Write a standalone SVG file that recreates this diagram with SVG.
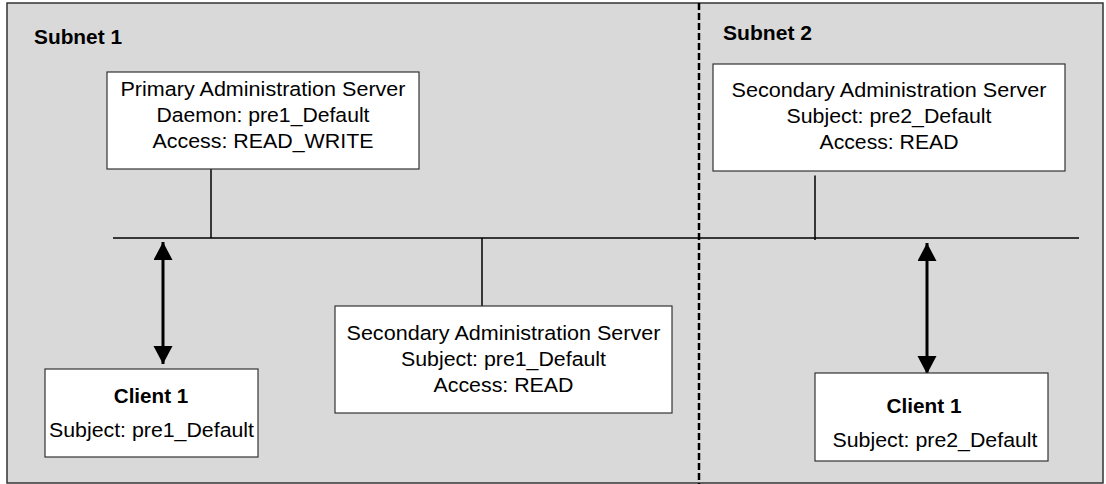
<svg xmlns="http://www.w3.org/2000/svg" width="1106" height="484" viewBox="0 0 1106 484">
  <style>
    .t { font-family: "Liberation Sans", Arial, sans-serif; font-size: 20.5px; fill: #000; text-anchor: middle; }
    .b { font-weight: bold; font-size: 20px; }
    .l { text-anchor: start; }
    .box { fill: #fff; stroke: #333; stroke-width: 1.2; }
    .wire { stroke: #000; stroke-width: 1.5; fill: none; }
    .arrow { stroke: #000; stroke-width: 3; fill: none; marker-start: url(#ah); marker-end: url(#ah); }
  </style>
  <defs>
    <marker id="ah" markerUnits="userSpaceOnUse" markerWidth="19" markerHeight="20" refX="18" refY="9.5" orient="auto-start-reverse">
      <path d="M0,0 L18,9.5 L0,19 z" fill="#000"/>
    </marker>
  </defs>
  <rect x="0" y="0" width="1106" height="484" fill="#fff"/>
  <rect id="area" x="7" y="3" width="1096" height="480" fill="#d9d9d9" stroke="#333" stroke-width="1.5"/>
  <line x1="699" y1="3" x2="699" y2="484" stroke="#000" stroke-width="2.5" stroke-dasharray="7,3"/>
  <text class="t b l" x="34" y="44" textLength="88" lengthAdjust="spacingAndGlyphs">Subnet 1</text>
  <text class="t b l" x="723" y="40" textLength="89" lengthAdjust="spacingAndGlyphs">Subnet 2</text>

  <g id="connectors">
    <line class="wire" x1="113" y1="238" x2="1079" y2="238"/>
    <line class="wire" x1="211" y1="169" x2="211" y2="238"/>
    <line class="wire" x1="482" y1="238" x2="482" y2="306"/>
    <line class="wire" x1="815" y1="175.5" x2="815" y2="240" stroke-width="1.2"/>
    <line class="arrow" x1="163" y1="242" x2="163" y2="364"/>
    <line class="arrow" x1="927" y1="243" x2="927" y2="374"/>
  </g>

  <g id="primary">
    <rect class="box" x="107" y="72" width="312" height="97"/>
    <text class="t" x="263" y="96" textLength="285" lengthAdjust="spacingAndGlyphs">Primary Administration Server</text>
    <text class="t" x="263" y="122" textLength="213" lengthAdjust="spacingAndGlyphs">Daemon: pre1_Default</text>
    <text class="t" x="263" y="148" textLength="221" lengthAdjust="spacingAndGlyphs">Access: READ_WRITE</text>
  </g>

  <g id="secondary2">
    <rect class="box" x="713" y="64" width="352" height="107"/>
    <text class="t" x="889" y="97" textLength="315" lengthAdjust="spacingAndGlyphs">Secondary Administration Server</text>
    <text class="t" x="889" y="123" textLength="205" lengthAdjust="spacingAndGlyphs">Subject: pre2_Default</text>
    <text class="t" x="889" y="149" textLength="139" lengthAdjust="spacingAndGlyphs">Access: READ</text>
  </g>

  <g id="secondary1">
    <rect class="box" x="335" y="306" width="337" height="107"/>
    <text class="t" x="503.5" y="340" textLength="314" lengthAdjust="spacingAndGlyphs">Secondary Administration Server</text>
    <text class="t" x="503.5" y="366" textLength="205" lengthAdjust="spacingAndGlyphs">Subject: pre1_Default</text>
    <text class="t" x="503.5" y="392" textLength="140" lengthAdjust="spacingAndGlyphs">Access: READ</text>
  </g>

  <g id="client1a">
    <rect class="box" x="45" y="369" width="213" height="88"/>
    <text class="t b" x="151" y="403" textLength="74.5" lengthAdjust="spacingAndGlyphs">Client 1</text>
    <text class="t" x="151.5" y="437" textLength="205" lengthAdjust="spacingAndGlyphs">Subject: pre1_Default</text>
  </g>

  <g id="client1b">
    <rect class="box" x="815" y="373" width="233" height="88"/>
    <text class="t b" x="924" y="413" textLength="75" lengthAdjust="spacingAndGlyphs">Client 1</text>
    <text class="t" x="935" y="447" textLength="205" lengthAdjust="spacingAndGlyphs">Subject: pre2_Default</text>
  </g>
</svg>
